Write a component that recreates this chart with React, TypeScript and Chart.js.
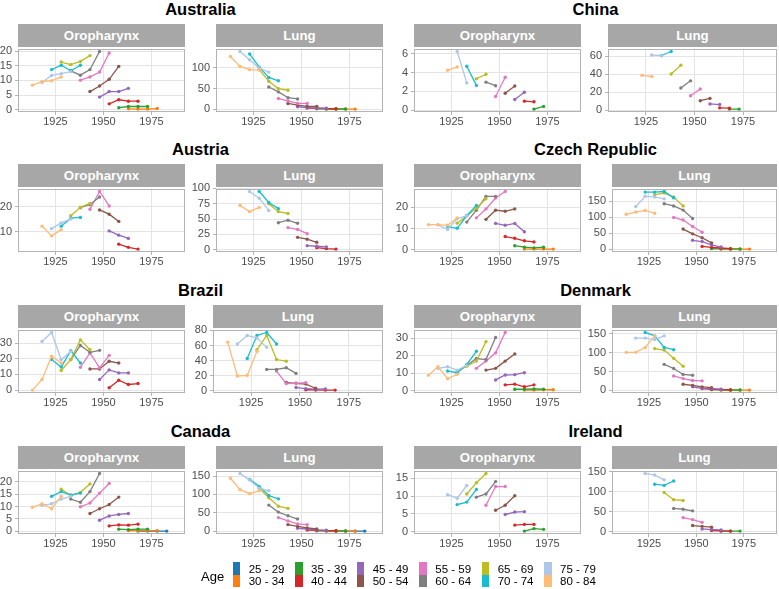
import React, { useEffect, useRef } from "react";
import { Chart, registerables } from "chart.js";

Chart.register(...registerables);

// ---------- categories ----------
const ageGroups = ["25 - 29", "30 - 34", "35 - 39", "40 - 44", "45 - 49", "50 - 54", "55 - 59", "60 - 64", "65 - 69", "70 - 74", "75 - 79", "80 - 84"];
const ageColors = ["#1f77b4", "#ff7f0e", "#2ca02c", "#d62728", "#9467bd", "#8c564b", "#e377c2", "#7f7f7f", "#bcbd22", "#17becf", "#aec7e8", "#ffbb78"];
// birth cohort of the oldest age group (80-84) in the first period; cohorts step 5 years
const firstCohort = 1913;
const cohortStep = 5;
const xTicks = [1925, 1950, 1975];
const xMin = 1905.5;
const xMax = 1992.5;

// ---------- series values (index = age group 25-29 ... 80-84; values by consecutive period) ----------
const australiaOropharynx = [
  [], [0.3, 0.2, 0.2, 0.4], [0.7, 1.1, 1.1, 1.1], [2.0, 3.4, 2.9, 2.9], [4.3, 6.2, 6.2, 7.3], [6.2, 8.1, 10.4, 14.8],
  [10.1, 11.2, 12.9, 19.4], [13.3, 11.8, 13.7, 19.9], [16.3, 15.4, 16.5, 18.5], [13.7, 15.2, 13.3, 15.2], [9.3, 11.7, 12.3, 13.0], [8.4, 9.6, 9.9, 11.2],
];
const australiaLung = [
  [], [0.5, 0.4, 0.3, 0.3], [1, 0.8, 0.6, 0.6], [3, 2, 1.5, 1.2], [6, 4, 3, 2.5], [14, 10, 7, 7],
  [26, 20, 14, 14], [54, 42, 28, 25], [96, 68, 50, 46], [134, 102, 77, 69], [140, 120, 100, 90], [128, 104, 96, 95],
];
const chinaOropharynx = [
  [], [], [0.1, 0.39], [0.95, 0.88], [1.12, 1.9], [1.79, 2.56],
  [1.44, 3.5], [2.98, 2.6], [3.33, 3.82], [4.67, 2.63], [6.25, 2.9], [4.25, 4.6],
];
const chinaLung = [
  [], [], [1.1, 1.1], [2.5, 2.2], [6.9, 6.2], [10.5, 13.1],
  [16, 23.6], [24.7, 32.7], [40.4, 50.2], [61, 65.5], [61.5, 61], [38.9, 37.5],
];
const austriaOropharynx = [
  [], [], [], [5.1, 3.8, 3.1], [10.4, 8.7, 7.4], [18.8, 17.1, 14.2],
  [19.1, 26.2, 20.4], [19.7, 21, 24], [16.5, 19.9, 21.4], [12.3, 15.5, 15.8], [11.3, 13.6, 15.2], [12.3, 8.4, 10.9],
];
const austriaLung = [
  [], [], [], [3.2, 1.6, 0.8], [6.5, 5.5, 4.5], [20, 17, 12],
  [36, 33, 26], [44, 48, 43], [75, 62, 59], [95, 77, 67], [95, 84, 64], [72, 62, 69],
];
const czechOropharynx = [
  [], [0.3, 0.3, 0.3, 0.3], [1.9, 1.2, 0.9, 1.2], [6.2, 5.4, 4.2, 3.7], [12.4, 11.5, 12.4, 8.5], [14.3, 18.6, 18.1, 19.2],
  [15, 19.2, 24.3, 27.4], [13, 18.6, 25.1, 25.1], [12.5, 16, 19.5, 24], [10.9, 10.1, 16.1, 20.8], [11.7, 9.5, 14.5, 16], [11.8, 11.8, 11.5, 15],
];
const czechLung = [
  [], [0.8, 0.6, 0.5, 0.5], [2, 1.5, 1, 1], [9, 6, 4, 2], [28, 24, 14, 7], [63, 48, 36, 20],
  [99, 91, 71, 53], [142, 135, 122, 96], [170, 175, 163, 135], [178, 178, 180, 160], [133, 165, 163, 157], [109, 116, 121, 112],
];
const brazilOropharynx = [
  [], [], [], [1.5, 6.3, 3.6, 4.2], [6.8, 12.9, 11, 11], [13.5, 13.5, 18.4, 17.3],
  [14.6, 23.7, 14.2, 22.2], [19.5, 28.5, 24.1, 25.4], [12.5, 19.5, 32.1, 25.8], [19.5, 14.8, 25.2, 17.3], [31.1, 36.8, 19.5, 24.7], [0, 6.8, 21.6, 17.3],
];
const brazilLung = [
  [], [], [], [1.5, 1.2, 1, 1], [4.4, 3, 2.2, 2.6], [11, 10, 9, 3.5],
  [26.2, 9.6, 10, 10.9], [28.4, 28.4, 30.6, 23.1], [54.6, 73.4, 41.5, 39.3], [42.8, 73.4, 77.3, 62], [62, 73.4, 69.9, 57.6], [64.6, 19.7, 20.5, 52.4],
];
const denmarkOropharynx = [
  [], [0.4, 0.4, 0.6, 0.6], [0.9, 0.9, 1.1, 0.9], [3.4, 3.8, 2.3, 3.4], [6.2, 9, 9.2, 10.3], [11.8, 12.8, 16.9, 21],
  [12.8, 16.9, 21.6, 33.2], [14.4, 18.4, 17.8, 30.4], [11, 14, 17, 28], [11.3, 10.3, 15, 22.5], [12.8, 13.7, 11.8, 14.4], [8.8, 13.7, 6.9, 9.4],
];
const denmarkLung = [
  [], [0.6, 0.5, 0.4, 0.3], [1.5, 1, 0.8, 0.6], [4.4, 2.6, 1.8, 0.9], [9, 5, 4.4, 2.6], [16, 13, 9, 7],
  [38, 31, 26, 25], [69, 58, 42, 40], [111, 107, 85, 64], [154, 145, 114, 108], [139, 139, 135, 145], [101, 101, 114, 145],
];
const canadaOropharynx = [
  [0.1, 0.1, 0.1, 0.1], [0.3, 0.3, 0.3, 0.3], [0.9, 0.7, 0.9, 0.9], [2.2, 2.6, 2.5, 2.9], [4.5, 6.2, 6.8, 7.2], [7.2, 9.1, 10.8, 13.8],
  [9.9, 11.4, 15.4, 19.3], [13, 11.7, 16, 23.3], [17, 14.3, 15.7, 19.1], [14.1, 16, 14.7, 15.4], [10.5, 11.1, 13, 14.1], [9.7, 11.1, 9.1, 14.1],
];
const canadaLung = [
  [0.2, 0.2, 0.2, 0.2], [0.5, 0.4, 0.4, 0.3], [1.2, 0.9, 0.7, 0.6], [3, 2, 1.5, 1.2], [8, 6, 3.5, 2.7], [18, 13, 9, 6],
  [37, 28, 20, 18], [71, 52, 42, 33], [117, 91, 68, 62], [141, 122, 97, 88], [157, 139, 117, 110], [144, 113, 102, 110],
];
const irelandOropharynx = [
  [], [], [0.1, 0.8, 0.6], [1.8, 2, 2], [4.8, 5.5, 5.6], [6, 7.4, 10.1],
  [7.4, 12.7, 12.7], [9.7, 10.6, 14.1], [10.6, 13.8, 16.4], [7.6, 8.3, 11.9], [10.4, 9.4, 13], [],
];
const irelandLung = [
  [], [], [1, 1, 1], [2.5, 1.6, 1], [6.5, 5, 4], [15, 13, 11],
  [35, 30, 23], [58, 56, 52], [98, 80, 78], [119, 116, 127], [146, 142, 130], [],
];

// ---------- y tick labels ----------
const australiaTicks = [[0, 5, 10, 15, 20], [0, 50, 100]];
const chinaTicks = [[0, 2, 4, 6], [0, 20, 40, 60]];
const austriaTicks = [[10, 20], [0, 25, 50, 75, 100]];
const czechTicks = [[0, 10, 20], [0, 50, 100, 150]];
const brazilTicks = [[0, 10, 20, 30], [0, 20, 40, 60, 80]];
const denmarkTicks = [[0, 10, 20, 30], [0, 50, 100, 150]];
const canadaTicks = [[0, 5, 10, 15, 20], [0, 50, 100, 150]];
const irelandTicks = [[0, 5, 10, 15], [0, 50, 100, 150]];

const siteNames = ["Oropharynx", "Lung"];

// ---------- layout ----------
const FONT = '"Liberation Sans", Arial, Helvetica, sans-serif';
const rowY = [0, 140, 281, 422];
const AXW = 40;
const PADT = 8;
const PADR = 6;
const XAXH = 22;

type Country = {
  name: string; row: number; col: number; firstPeriod: number;
  series: number[][][]; ticks: number[][]; lungLeft: number;
};

const countries: Country[] = [
  { name: "Australia", row: 0, col: 0, firstPeriod: 0, series: [australiaOropharynx, australiaLung], ticks: australiaTicks, lungLeft: 216 },
  { name: "China", row: 0, col: 1, firstPeriod: 2, series: [chinaOropharynx, chinaLung], ticks: chinaTicks, lungLeft: 608 },
  { name: "Austria", row: 1, col: 0, firstPeriod: 1, series: [austriaOropharynx, austriaLung], ticks: austriaTicks, lungLeft: 216 },
  { name: "Czech Republic", row: 1, col: 1, firstPeriod: 0, series: [czechOropharynx, czechLung], ticks: czechTicks, lungLeft: 612 },
  { name: "Brazil", row: 2, col: 0, firstPeriod: 0, series: [brazilOropharynx, brazilLung], ticks: brazilTicks, lungLeft: 213 },
  { name: "Denmark", row: 2, col: 1, firstPeriod: 0, series: [denmarkOropharynx, denmarkLung], ticks: denmarkTicks, lungLeft: 612 },
  { name: "Canada", row: 3, col: 0, firstPeriod: 0, series: [canadaOropharynx, canadaLung], ticks: canadaTicks, lungLeft: 216 },
  { name: "Ireland", row: 3, col: 1, firstPeriod: 1, series: [irelandOropharynx, irelandLung], ticks: irelandTicks, lungLeft: 612 },
];

const colOro = [[18, 185], [414, 581]];
const colLungRight = [383, 777];

const panelBorder = {
  id: "panelBorder",
  afterDraw(chart: any) {
    const { ctx, chartArea: a } = chart;
    ctx.save();
    ctx.strokeStyle = "#b3b3b3";
    ctx.lineWidth = 1;
    ctx.strokeRect(Math.round(a.left) + 0.5, Math.round(a.top) + 0.5, Math.round(a.right - a.left) - 1, Math.round(a.bottom - a.top) - 1);
    ctx.restore();
  },
};

type PanelProps = { left: number; right: number; top: number; bottom: number; series: number[][]; firstPeriod: number; ticks: number[] };

function Panel(p: PanelProps) {
  const ref = useRef<HTMLCanvasElement>(null);
  const W = p.right - p.left + AXW + PADR;
  const H = p.bottom - p.top + PADT + XAXH;
  useEffect(() => {
    const datasets: any[] = [];
    for (let a = ageGroups.length - 1; a >= 0; a--) {
      const vals = p.series[a];
      if (!vals || vals.length === 0) continue;
      const start = firstCohort + cohortStep * (ageGroups.length - 1 - a) + cohortStep * p.firstPeriod;
      datasets.push({
        label: ageGroups[a],
        data: vals.map((v, i) => ({ x: start + cohortStep * i, y: v })),
        borderColor: ageColors[a],
        backgroundColor: ageColors[a],
        pointBackgroundColor: ageColors[a],
        borderWidth: 1.3,
        pointRadius: 1.7,
        pointBorderWidth: 0,
        pointHoverRadius: 0,
        tension: 0,
      });
    }
    const all = p.series.flat();
    const mn = Math.min(...all);
    const mx = Math.max(...all);
    const pad = (mx - mn) * 0.05;
    const tickFont = { family: FONT, size: 11 };
    const chart = new Chart(ref.current as HTMLCanvasElement, {
      type: "line",
      data: { datasets },
      options: {
        animation: false,
        responsive: false,
        events: [],
        layout: { padding: { top: PADT, right: PADR, left: 0, bottom: 0 } },
        plugins: { legend: { display: false }, tooltip: { enabled: false }, title: { display: false } },
        scales: {
          x: {
            type: "linear",
            min: xMin,
            max: xMax,
            afterBuildTicks: (s: any) => { s.ticks = xTicks.map((v) => ({ value: v })); },
            afterFit: (s: any) => { s.height = XAXH; },
            ticks: { callback: (v: any) => String(v), color: "#4d4d4d", font: tickFont, padding: 0, maxRotation: 0, autoSkip: false },
            grid: { color: "#e4e4e4", lineWidth: 1, tickColor: "#b3b3b3", tickLength: 3, drawTicks: true },
            border: { display: false },
          },
          y: {
            type: "linear",
            min: mn - pad,
            max: mx + pad,
            afterBuildTicks: (s: any) => { s.ticks = p.ticks.map((v) => ({ value: v })); },
            afterFit: (s: any) => { s.width = AXW; },
            ticks: { callback: (v: any) => String(v), color: "#4d4d4d", font: tickFont, padding: 3, autoSkip: false },
            grid: { color: "#e4e4e4", lineWidth: 1, tickColor: "#b3b3b3", tickLength: 3, drawTicks: true },
            border: { display: false },
          },
        },
      } as any,
      plugins: [panelBorder],
    });
    return () => chart.destroy();
  }, []);
  return (
    <canvas
      ref={ref}
      width={W}
      height={H}
      style={{ position: "absolute", left: p.left - AXW, top: p.top - PADT, width: W, height: H }}
    />
  );
}

function Strip({ left, right, top, text }: { left: number; right: number; top: number; text: string }) {
  return (
    <div
      style={{
        position: "absolute", left, top: top - 23, width: right - left, height: 23,
        background: "#a7a7a7", color: "#ffffff", fontFamily: FONT, fontWeight: "bold",
        fontSize: 13.3, lineHeight: "23px", textAlign: "center",
      }}
    >
      {text}
    </div>
  );
}

export default function App() {
  const items: any[] = [];
  countries.forEach((c) => {
    const y0 = rowY[c.row];
    const top = y0 + 47;
    const bottom = y0 + 112;
    const oro = colOro[c.col];
    const lung = [c.lungLeft, colLungRight[c.col]];
    const spans = [oro, lung];
    items.push(
      <div
        key={c.name + "-title"}
        style={{
          position: "absolute", left: oro[0], width: lung[1] - oro[0], top: y0 - 1, height: 20,
          lineHeight: "20px", textAlign: "center", fontFamily: FONT, fontWeight: "bold", fontSize: 16.5, color: "#000",
        }}
      >
        {c.name}
      </div>
    );
    spans.forEach((sp, i) => {
      items.push(<Strip key={c.name + "-strip" + i} left={sp[0]} right={sp[1]} top={top} text={siteNames[i]} />);
      items.push(
        <Panel
          key={c.name + "-panel" + i}
          left={sp[0]} right={sp[1]} top={top} bottom={bottom}
          series={c.series[i]} firstPeriod={c.firstPeriod} ticks={c.ticks[i]}
        />
      );
    });
  });

  const keyX = [232.7, 295, 356.7, 419.3, 481.7, 544];
  const legend: any[] = [];
  legend.push(
    <div key="age" style={{ position: "absolute", left: 201, top: 569, fontFamily: FONT, fontSize: 13, color: "#000", lineHeight: "15px" }}>
      Age
    </div>
  );
  for (let k = 0; k < 6; k++) {
    for (let r = 0; r < 2; r++) {
      const a = k * 2 + r;
      legend.push(
        <div key={"key" + a} style={{ position: "absolute", left: keyX[k], top: 562 + r * 12.5, width: 7.5, height: 12.5, background: ageColors[a] }} />
      );
      legend.push(
        <div
          key={"lab" + a}
          style={{ position: "absolute", left: keyX[k] + 16, top: 562 + r * 12, height: 14, lineHeight: "14px", fontFamily: FONT, fontSize: 11.5, color: "#000", whiteSpace: "nowrap" }}
        >
          {ageGroups[a]}
        </div>
      );
    }
  }

  return (
    <div style={{ position: "absolute", left: 0, top: 0, width: 779, height: 589, overflow: "hidden", background: "#fff" }}>
      {items}
      {legend}
    </div>
  );
}
